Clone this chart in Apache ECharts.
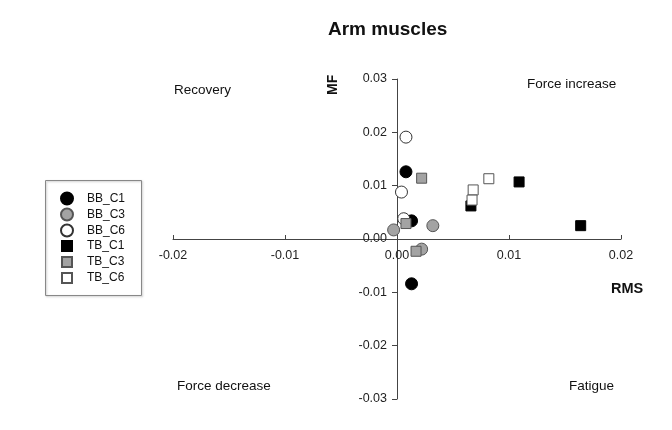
<!DOCTYPE html>
<html><head><meta charset="utf-8">
<script src="https://cdn.jsdelivr.net/npm/echarts@6/dist/echarts.min.js"></script>
<style>html,body{margin:0;padding:0;background:#fff}#c{width:672px;height:430px}</style>
</head><body><div id="c"></div>
<script>
// Data (RMS on x, MF on y)
const seriesNames = ['BB_C1', 'BB_C3', 'BB_C6', 'TB_C1', 'TB_C3', 'TB_C6'];
const bbC1_rms = [0.0008, 0.0013, 0.0013];
const bbC1_mf  = [0.0126, 0.0034, -0.0084];
const bbC3_rms = [-0.0003, 0.0032, 0.0022];
const bbC3_mf  = [0.0017, 0.0025, -0.0019];
const bbC6_rms = [0.0008, 0.0004, 0.0006];
const bbC6_mf  = [0.0191, 0.0088, 0.0038];
const tbC1_rms = [0.0066, 0.0109, 0.0164];
const tbC1_mf  = [0.0062, 0.0107, 0.0025];
const tbC3_rms = [0.0022, 0.0008, 0.0017];
const tbC3_mf  = [0.0114, 0.0029, -0.0023];
const tbC6_rms = [0.0082, 0.0068, 0.0067];
const tbC6_mf  = [0.0113, 0.0092, 0.0073];
const xTicks = [-0.02, -0.01, 0, 0.01, 0.02];
const yTicks = [-0.03, -0.02, -0.01, 0, 0.01, 0.02, 0.03];
const quadrantLabels = ['Recovery', 'Force increase', 'Force decrease', 'Fatigue'];

const FONT = 'Liberation Sans, Arial, sans-serif';
const zip = (a, b) => a.map((v, i) => [v, b[i]]);

const styles = [
  {symbol: 'circle', size: 12, color: '#000000', border: '#000000'},
  {symbol: 'circle', size: 12, color: '#a3a3a3', border: '#555555'},
  {symbol: 'circle', size: 12, color: '#ffffff', border: '#333333'},
  {symbol: 'rect', size: 10, color: '#000000', border: '#000000'},
  {symbol: 'rect', size: 10, color: '#a3a3a3', border: '#555555'},
  {symbol: 'rect', size: 10, color: '#ffffff', border: '#555555'}
];
const dataSets = [
  zip(bbC1_rms, bbC1_mf), zip(bbC3_rms, bbC3_mf), zip(bbC6_rms, bbC6_mf),
  zip(tbC1_rms, tbC1_mf), zip(tbC3_rms, tbC3_mf), zip(tbC6_rms, tbC6_mf)
];

const series = seriesNames.map((n, i) => ({
  name: n,
  type: 'scatter',
  symbol: styles[i].symbol,
  symbolSize: styles[i].size,
  data: dataSets[i],
  itemStyle: {color: styles[i].color, borderColor: styles[i].border, borderWidth: 1, opacity: 1},
  emphasis: {disabled: true},
  z: 3
}));

const fmt = v => v.toFixed(2);
const axisColor = '#444';

// grid geometry
const G = {left: 173, right: 51, top: 79, bottom: 31};
const plotW = 672 - G.left - G.right;   // 448
const plotH = 430 - G.top - G.bottom;   // 320
const xMin = xTicks[0], xMax = xTicks[xTicks.length - 1];
const yMin = yTicks[0], yMax = yTicks[yTicks.length - 1];
// shift axes so that they cross at zero
const xAxisOffset = -plotH * (0 - yMin) / (yMax - yMin);
const yAxisOffset = -plotW * (0 - xMin) / (xMax - xMin);

const chart = echarts.init(document.getElementById('c'), null, {renderer: 'canvas'});
chart.setOption({
  backgroundColor: '#ffffff',
  animation: false,
  title: {
    text: 'Arm muscles', left: 323, top: 15,
    textStyle: {fontFamily: FONT, fontSize: 19, fontWeight: 'bold', color: '#111'}
  },
  grid: {left: G.left, right: G.right, top: G.top, bottom: G.bottom, containLabel: false},
  xAxis: {
    type: 'value', min: xMin, max: xMax, interval: 0.01, position: 'bottom', offset: xAxisOffset,
    axisLine: {onZero: false, lineStyle: {color: axisColor, width: 1}},
    axisTick: {show: true, inside: true, length: 4, lineStyle: {color: axisColor}},
    axisLabel: {formatter: fmt, margin: 10, fontFamily: FONT, fontSize: 12.5, color: '#222'},
    splitLine: {show: false}
  },
  yAxis: {
    type: 'value', min: yMin, max: yMax, interval: 0.01, position: 'left', offset: yAxisOffset,
    axisLine: {onZero: false, lineStyle: {color: axisColor, width: 1}},
    axisTick: {show: true, inside: false, length: 5, lineStyle: {color: axisColor}},
    axisLabel: {formatter: fmt, margin: 10, fontFamily: FONT, fontSize: 12.5, color: '#222'},
    splitLine: {show: false}
  },
  legend: [
    {
      data: seriesNames.slice(0, 3), orient: 'vertical', left: 60, top: 191.5,
      itemWidth: 12, itemHeight: 12, itemGap: 2, padding: 0,
      selectedMode: false,
      textStyle: {fontFamily: FONT, fontSize: 12, color: '#111', padding: [0, 0, 0, 9]}
    },
    {
      data: seriesNames.slice(3), orient: 'vertical', left: 61, top: 240,
      itemWidth: 10, itemHeight: 10, itemGap: 4, padding: 0,
      selectedMode: false,
      textStyle: {fontFamily: FONT, fontSize: 12, color: '#111', padding: [0, 0, 0, 10]}
    }
  ],
  graphic: [
    {type: 'rect', left: 43, top: 178, shape: {width: 96, height: 115},
     style: {fill: 'none', stroke: '#888', lineWidth: 1, shadowBlur: 2, shadowColor: 'rgba(0,0,0,0.25)', shadowOffsetX: 1, shadowOffsetY: 1}, z: 0},
    {type: 'text', left: 174, top: 83, style: {text: quadrantLabels[0], font: '13.5px ' + FONT, fill: '#111'}},
    {type: 'text', left: 527, top: 77, style: {text: quadrantLabels[1], font: '13.5px ' + FONT, fill: '#111'}},
    {type: 'text', left: 177, top: 379, style: {text: quadrantLabels[2], font: '13.5px ' + FONT, fill: '#111'}},
    {type: 'text', left: 569, top: 379, style: {text: quadrantLabels[3], font: '13.5px ' + FONT, fill: '#111'}},
    {type: 'text', x: 326, y: 95, rotation: Math.PI / 2, style: {text: 'MF', font: 'bold 14px ' + FONT, fill: '#111'}},
    {type: 'text', left: 611, top: 281, style: {text: 'RMS', font: 'bold 14.5px ' + FONT, fill: '#111'}}
  ],
  series: series
});
</script></body></html>
